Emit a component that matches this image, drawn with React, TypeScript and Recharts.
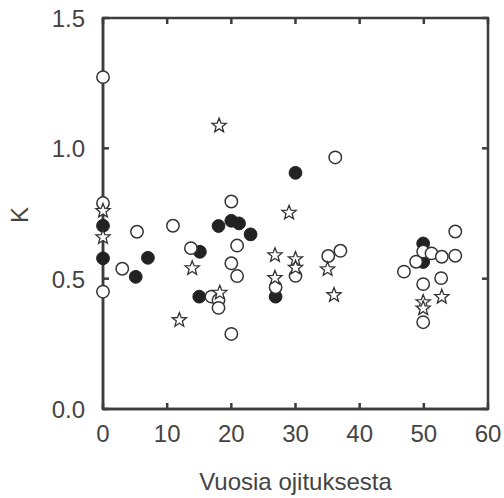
import { ScatterChart, Scatter, XAxis, YAxis, ReferenceArea, ReferenceLine } from "recharts";

// K vs. years since drainage, three groups
const openPts = [
  { x: 0, y: 1.273 }, { x: 0, y: 0.79 }, { x: 0, y: 0.45 }, { x: 3, y: 0.538 },
  { x: 5.3, y: 0.68 }, { x: 10.9, y: 0.703 }, { x: 13.7, y: 0.617 }, { x: 16.9, y: 0.431 },
  { x: 18, y: 0.418 }, { x: 18, y: 0.388 }, { x: 20, y: 0.796 }, { x: 20.9, y: 0.627 },
  { x: 20, y: 0.559 }, { x: 20.9, y: 0.51 }, { x: 20, y: 0.288 }, { x: 26.9, y: 0.467 },
  { x: 30, y: 0.511 }, { x: 35.1, y: 0.587 }, { x: 37, y: 0.607 }, { x: 36.2, y: 0.965 },
  { x: 46.9, y: 0.527 }, { x: 48.8, y: 0.565 }, { x: 49.9, y: 0.604 }, { x: 51.2, y: 0.597 },
  { x: 52.8, y: 0.584 }, { x: 54.9, y: 0.588 }, { x: 54.9, y: 0.681 }, { x: 52.7, y: 0.502 },
  { x: 49.9, y: 0.479 }, { x: 49.9, y: 0.333 },
];

const filledPts = [
  { x: 0, y: 0.703 }, { x: 0, y: 0.578 }, { x: 5.1, y: 0.507 }, { x: 7, y: 0.58 },
  { x: 15.1, y: 0.603 }, { x: 15, y: 0.431 }, { x: 18, y: 0.702 }, { x: 20, y: 0.722 },
  { x: 21.2, y: 0.712 }, { x: 23, y: 0.67 }, { x: 26.9, y: 0.431 }, { x: 30, y: 0.906 },
  { x: 49.9, y: 0.635 }, { x: 49.9, y: 0.564 },
];

const starPts = [
  { x: 0, y: 0.76 }, { x: 0, y: 0.659 }, { x: 11.9, y: 0.341 }, { x: 13.9, y: 0.54 },
  { x: 18.1, y: 1.087 }, { x: 18.2, y: 0.446 }, { x: 26.8, y: 0.59 }, { x: 26.8, y: 0.503 },
  { x: 29, y: 0.753 }, { x: 30, y: 0.575 }, { x: 30, y: 0.542 }, { x: 35, y: 0.536 },
  { x: 36, y: 0.437 }, { x: 49.9, y: 0.41 }, { x: 49.9, y: 0.386 }, { x: 52.8, y: 0.43 },
];

const xTicks = [0, 10, 20, 30, 40, 50, 60];
const yTicks = [0, 0.5, 1.0, 1.5];

const INK = "#333";
const FRAME = "#3c3c3c";
const TEXT = "#444";
const FONT = "'Liberation Sans', Arial, sans-serif";
// tick length in data units (plot is 385 px wide for 60, 391 px tall for 1.5)
const TICK_X = (6 * 60) / 385;
const TICK_Y = (6 * 1.5) / 391;

const OpenDot = (p: any) => (
  <circle cx={p.cx} cy={p.cy} r={6.2} fill="#fff" stroke={INK} strokeWidth={1.5} />
);

const FilledDot = (p: any) => (
  <circle cx={p.cx} cy={p.cy} r={6.4} fill="#222" stroke="#222" strokeWidth={1} />
);

const StarDot = (p: any) => {
  const pts: string[] = [];
  for (let i = 0; i < 10; i++) {
    const r = i % 2 === 0 ? 7.5 : 3.2;
    const a = -Math.PI / 2 + (i * Math.PI) / 5;
    pts.push(`${p.cx + r * Math.cos(a)},${p.cy + r * Math.sin(a)}`);
  }
  return <polygon points={pts.join(" ")} fill="#fff" stroke={INK} strokeWidth={1.3} />;
};

const BottomTick = (p: any) => (
  <text x={p.x} y={p.y + 31} textAnchor="middle" fill={TEXT} fontSize={24} fontFamily={FONT}>
    {p.payload.value}
  </text>
);

const LeftTick = (p: any) => (
  <text x={p.x - 16} y={p.y + 9} textAnchor="end" fill={TEXT} fontSize={24} fontFamily={FONT}>
    {Number(p.payload.value).toFixed(1)}
  </text>
);

export default function App() {
  return (
    <div style={{ position: "absolute", left: 0, top: 0 }}>
      <ScatterChart width={504} height={498} margin={{ top: 18, right: 16, bottom: 0, left: 0 }}>
        <XAxis
          type="number"
          dataKey="x"
          domain={[0, 60]}
          ticks={xTicks}
          interval={0}
          height={89}
          tickSize={0}
          tickLine={false}
          tick={BottomTick}
          axisLine={{ stroke: FRAME, strokeWidth: 2.5 }}
          label={{ value: "Vuosia ojituksesta", position: "insideBottom", offset: 8, fill: TEXT, fontSize: 24, fontFamily: FONT }}
        />
        <YAxis
          type="number"
          dataKey="y"
          domain={[0, 1.5]}
          ticks={yTicks}
          interval={0}
          width={103}
          tickSize={0}
          tickLine={false}
          tick={LeftTick}
          axisLine={{ stroke: FRAME, strokeWidth: 2.5 }}
        />
        <ReferenceArea x1={0} x2={60} y1={0} y2={1.5} fill="none" stroke={FRAME} strokeWidth={2.5} ifOverflow="visible" />
        {xTicks.map((t) => (
          <ReferenceLine key={"b" + t} segment={[{ x: t, y: 0 }, { x: t, y: TICK_Y }]} stroke={FRAME} strokeWidth={2.5} ifOverflow="visible" />
        ))}
        {xTicks.map((t) => (
          <ReferenceLine key={"t" + t} segment={[{ x: t, y: 1.5 }, { x: t, y: 1.5 - TICK_Y }]} stroke={FRAME} strokeWidth={2.5} ifOverflow="visible" />
        ))}
        {yTicks.map((t) => (
          <ReferenceLine key={"l" + t} segment={[{ x: 0, y: t }, { x: TICK_X, y: t }]} stroke={FRAME} strokeWidth={2.5} ifOverflow="visible" />
        ))}
        {yTicks.map((t) => (
          <ReferenceLine key={"r" + t} segment={[{ x: 60, y: t }, { x: 60 - TICK_X, y: t }]} stroke={FRAME} strokeWidth={2.5} ifOverflow="visible" />
        ))}
        <Scatter data={filledPts} shape={FilledDot} isAnimationActive={false} />
        <Scatter data={openPts} shape={OpenDot} isAnimationActive={false} />
        <Scatter data={starPts} shape={StarDot} isAnimationActive={false} />
      </ScatterChart>
      <svg width={504} height={498} style={{ position: "absolute", left: 0, top: 0, pointerEvents: "none" }}>
        <text x={19} y={215} transform="rotate(-90 19 215)" textAnchor="middle" dominantBaseline="central" fill={TEXT} fontSize={24} fontFamily={FONT}>
          K
        </text>
      </svg>
    </div>
  );
}
